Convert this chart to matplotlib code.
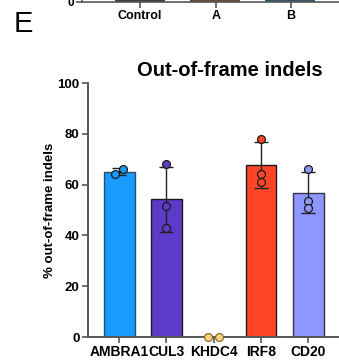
import numpy as np
import matplotlib.pyplot as plt

plt.rcParams['font.family'] = ['Liberation Sans', 'DejaVu Sans']

genes = ['AMBRA1', 'CUL3', 'KHDC4', 'IRF8', 'CD20']
reps = [[64.0, 66.0], [68.0, 51.5, 43.0], [0.0, 0.0], [78.0, 64.2, 61.0], [66.1, 53.5, 50.9]]
bar_colors = ['#1a9bff', '#5c3bc9', '#ffd280', '#ff4527', '#8f97ff']
yticks = [0, 20, 40, 60, 80, 100]

prev_labels = ['Control', 'A', 'B']

W, H = 339, 360
fig = plt.figure(figsize=(W / 100, H / 100), dpi=100)

# leftover bottom of the previous panel (D)
top = fig.add_axes([82 / W, 1 - 1.5 / H, 1 - 82 / W, 0.3])
top.set_xlim(0, 257)
top.set_ylim(0, 1)
for x0, w, c in [(33, 50, '#3a3f4a'), (108, 50, '#6b4a3a'), (183, 50, '#2f5566')]:
    top.bar(x0 + w / 2, 0.05, width=w, bottom=0, color=c, edgecolor='none')
top.set_xticks([58, 134, 209])
top.set_xticklabels(prev_labels, fontsize=9, fontweight='bold')
top.set_yticks([0])
top.set_yticklabels(['0'], fontsize=8.5, fontweight='bold')
for s in ['top', 'right']:
    top.spines[s].set_visible(False)
for s in ['left', 'bottom']:
    top.spines[s].set_color('#555555')
    top.spines[s].set_linewidth(1.2)
top.tick_params(length=4, width=1.2, color='#555555', pad=2)

fig.text(23 / W, 1 - 24 / H, 'E', fontsize=21, ha='center', va='center')

ax = fig.add_axes([88 / W, 1 - 337 / H, 1 - 88 / W + 0.01, (337 - 83) / H])
x = np.arange(len(genes))
means = [np.mean(r) for r in reps]
sds = [np.std(r, ddof=1) for r in reps]
edge_cols = ['#2a4d6e', '#1a1a1a', '#888888', '#1a1a1a', '#333344']
ax.bar(x, means, width=0.65, color=bar_colors, edgecolor=edge_cols, linewidth=1.0, zorder=2)
for i in range(len(genes)):
    if means[i] > 0:
        ax.errorbar(x[i], means[i], yerr=sds[i], color='#222222', capsize=5,
                    elinewidth=1.0, capthick=1.0, zorder=3)
    n = len(reps[i])
    if n == 2:
        offs = [-0.12, 0.12] if means[i] == 0 else [-0.08, 0.08]
    else:
        offs = [0] * n
    ax.scatter(x[i] + np.array(offs), reps[i], s=32, color=bar_colors[i],
               edgecolor='#8a6a30' if means[i] == 0 else '#1a1a1a',
               linewidth=0.9, zorder=4, clip_on=False)

ax.set_xlim(-0.66, 4.72)
ax.set_ylim(0, 100)
ax.set_yticks(yticks)
ax.set_yticklabels([str(v) for v in yticks], fontsize=9.5, fontweight='bold')
ax.set_xticks(x)
ax.set_xticklabels(genes, fontsize=10, fontweight='bold')
for s in ['top', 'right']:
    ax.spines[s].set_visible(False)
for s in ['left', 'bottom']:
    ax.spines[s].set_color('#555555')
    ax.spines[s].set_linewidth(1.4)
ax.tick_params(length=4, width=1.2, color='#555555', pad=2)
ax.set_ylabel('% out-of-frame indels', fontsize=9.5, fontweight='bold', labelpad=1)

fig.text(230 / W, 1 - 70 / H, 'Out-of-frame indels', fontsize=14.5, fontweight='bold',
         ha='center', va='center')

fig.savefig('out.png', dpi=100)
